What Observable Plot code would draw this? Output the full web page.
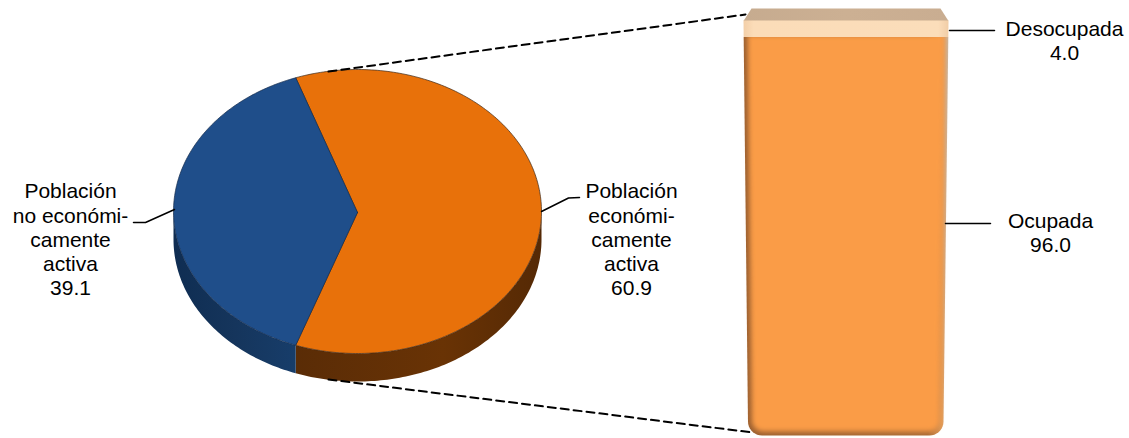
<!DOCTYPE html>
<html>
<head>
<meta charset="utf-8">
<script src="https://cdn.jsdelivr.net/npm/d3@7"></script>
<script src="https://cdn.jsdelivr.net/npm/@observablehq/plot@0.6"></script>
<style>html,body{margin:0;padding:0;background:#fff}svg{display:block}</style>
</head>
<body>
<div id="chart"></div>
<script>
const pieLabels = ["Población\neconómi-\ncamente\nactiva", "Población\nno económi-\ncamente\nactiva"];
const pieValues = [60.9, 39.1];
const barLabels = ["Ocupada", "Desocupada"];
const barValues = [96.0, 4.0];

const W = 1129, H = 438;
const P = {cx: 357, cy: 211, rx: 184, ry: 142, depth: 28, vx: 357, vy: 212};
const B = {top: 20, bottom: 435, lt: 743, lb: 747.5, rt: 948, rb: 943, r: 14};
const rad = Math.PI / 180;

// pie geometry from the values
const start = Math.PI / 2 - (pieValues[0] / 100) * Math.PI;
const arcs = d3.pie().sort(null).startAngle(start).endAngle(start + 2 * Math.PI)(pieValues);
const onEllipse = (a, dy = 0) => ({x: P.cx + P.rx * Math.sin(a), y: P.cy - P.ry * Math.cos(a) + dy});
const arcPts = (a0, a1, dy = 0) => {
  const n = Math.max(2, Math.ceil(Math.abs(a1 - a0) / (1 * rad)));
  return d3.range(n + 1).map(i => onEllipse(a0 + (a1 - a0) * i / n, dy));
};
const slice = d => [{x: P.vx, y: P.vy}, ...arcPts(d.startAngle, d.endAngle), {x: P.vx, y: P.vy}];
const side = (a0, a1) => {
  const lo = Math.max(a0, Math.PI / 2), hi = Math.min(a1, 3 * Math.PI / 2);
  const top = arcPts(lo, hi);
  const bot = arcPts(hi, lo, P.depth);
  return [...top, ...bot, top[0]];
};

// bar geometry from the values
const yOfShare = s => B.bottom - (s / 100) * (B.bottom - B.top);
const lx = y => B.lb + (B.lt - B.lb) * (B.bottom - y) / (B.bottom - B.top);
const rx = y => B.rb + (B.rt - B.rb) * (B.bottom - y) / (B.bottom - B.top);
const y1 = yOfShare(barValues[0]), y0 = yOfShare(barValues[0] + barValues[1]);
const roundedBody = (inset, r, tInset = 0) => {
  const t = y1 + tInset, b = B.bottom - inset;
  const L = lx(b) + inset, R = rx(b) - inset;
  const cornerR = d3.range(0, 91, 10).map(a => ({x: R - r + r * Math.cos(a * rad), y: b - r + r * Math.sin(a * rad)}));
  const cornerL = d3.range(90, 181, 10).map(a => ({x: L + r + r * Math.cos(a * rad), y: b - r + r * Math.sin(a * rad)}));
  const p = [{x: lx(t) + inset, y: t}, {x: rx(t) - inset, y: t}, ...cornerR, ...cornerL];
  return [...p, p[0]];
};
const band = inset => {
  const p = [{x: lx(y0) + inset, y: y0}, {x: rx(y0) - inset, y: y0}, {x: rx(y1) - inset, y: y1}, {x: lx(y1) + inset, y: y1}];
  return [...p, p[0]];
};
const topFace = [{x: 751, y: 8}, {x: 940, y: 8}, {x: 948, y: y0 + 0.5}, {x: 743, y: y0 + 0.5}, {x: 751, y: 8}];

const poly = (pts, o) => Plot.line(pts, {x: "x", y: "y", stroke: "none", curve: "linear", ...o});

const leaders = [
  [{x: 133, y: 222}, {x: 145, y: 222}, {x: 174, y: 209}],
  [{x: 541, y: 211}, {x: 568, y: 197.5}, {x: 579, y: 197}],
  [{x: 949, y: 30}, {x: 994, y: 30}],
  [{x: 945, y: 223}, {x: 990, y: 223}]
];
const dashes = [
  [{x: 328, y: 71}, {x: 745, y: 14}],
  [{x: 328, y: 379}, {x: 752, y: 432}]
];

const fmt = d3.format(".1f");
const labels = [
  {x: 631, y: 238.5, t: `${pieLabels[0]}\n${fmt(pieValues[0])}`},
  {x: 70, y: 238.5, t: `${pieLabels[1]}\n${fmt(pieValues[1])}`},
  {x: 1050, y: 232, t: `${barLabels[0]}\n${fmt(barValues[0])}`},
  {x: 1064, y: 40, t: `${barLabels[1]}\n${fmt(barValues[1])}`}
];

const defs = () => {
  const d = d3.create("svg:defs");
  const grad = (id, stops, h = true) => {
    const g = d.append("linearGradient").attr("id", id).attr("x1", 0).attr("y1", 0)
      .attr("x2", h ? 1 : 0).attr("y2", h ? 0 : 1);
    stops.forEach(([o, c]) => g.append("stop").attr("offset", o).attr("stop-color", c));
  };
  grad("sideO", [[0, "#5a2c06"], [0.6, "#693305"], [1, "#552905"]]);
  grad("sideB", [[0, "#0f2d52"], [0.5, "#15355c"], [1, "#173d6a"]]);
  grad("topF", [[0, "#c6ab8f"], [0.5, "#ccb093"], [1, "#c9ad91"]]);
  grad("bandF", [[0, "#f3cfa8"], [0.05, "#fbdcb8"], [0.95, "#fbddba"], [1, "#f1cda6"]]);
  grad("bodyF", [[0, "#9c6030"], [0.9, "#a86a36"], [0.97, "#e09a58"], [1, "#c8b6a4"]]);
  return d.node();
};

const plot = Plot.plot({
  width: W, height: H,
  marginTop: 0, marginRight: 0, marginBottom: 0, marginLeft: 0,
  x: {domain: [0, W], range: [0, W], axis: null},
  y: {domain: [0, H], range: [0, H], axis: null},
  style: {background: "#fff"},
  marks: [
    defs,
    // pie depth
    poly(side(arcs[0].startAngle, arcs[0].endAngle), {fill: "url(#sideO)"}),
    poly(side(arcs[1].startAngle, arcs[1].endAngle), {fill: "url(#sideB)"}),
    // pie top
    poly(slice(arcs[0]), {fill: "#e8710a", stroke: "#3d2a1a", strokeWidth: 0.7}),
    poly(slice(arcs[1]), {fill: "#1f4e8a", stroke: "#13294a", strokeWidth: 0.7}),
    // bar
    poly(topFace, {fill: "url(#topF)", imageFilter: "blur(0.7px)"}),
    poly(roundedBody(0, B.r), {fill: "url(#bodyF)", imageFilter: "blur(0.7px)"}),
    poly(roundedBody(4, B.r - 3, -2), {fill: "#fa9c47", imageFilter: "blur(2.5px)"}),
    poly(band(0), {fill: "url(#bandF)", imageFilter: "blur(0.7px)"}),
    // leaders and connectors
    ...leaders.map(l => Plot.line(l, {x: "x", y: "y", stroke: "#000", strokeWidth: 1.5, curve: "linear"})),
    ...dashes.map(l => Plot.line(l, {x: "x", y: "y", stroke: "#000", strokeWidth: 2, strokeDasharray: "8,5", curve: "linear"})),
    // text
    Plot.text(labels, {x: "x", y: "y", text: "t", fontFamily: "Liberation Sans", fontSize: 21, lineHeight: 1.155, fill: "#000", textAnchor: "middle", lineAnchor: "middle"})
  ]
});
document.getElementById("chart").appendChild(plot);
</script>
</body>
</html>
